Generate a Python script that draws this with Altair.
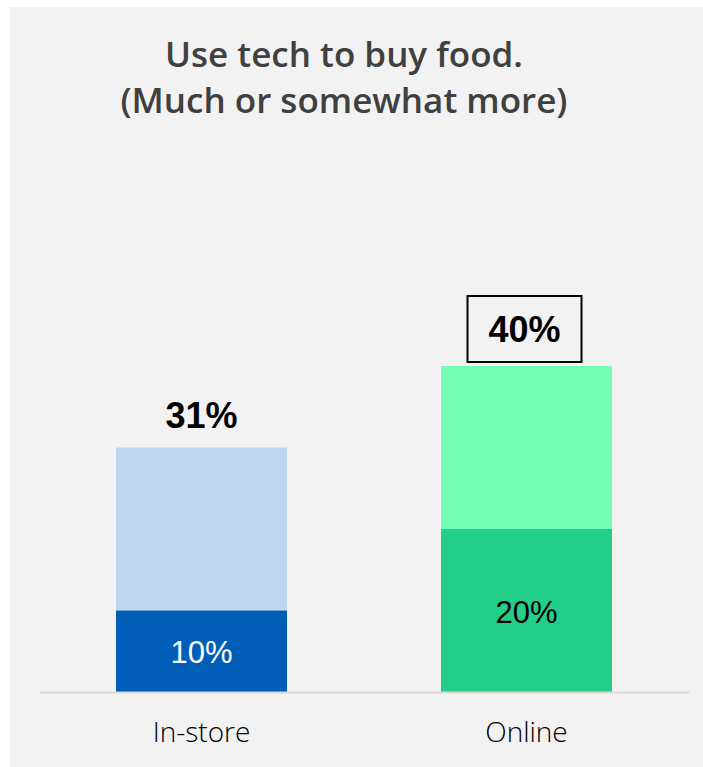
import altair as alt
import pandas as pd

categories = ["In-store", "Online"]
bottom_values = [10, 20]
total_values = [30, 40]
bottom_labels = ["10%", "20%"]
total_labels = ["31%", "40%"]
highlight = ["Online"]

bottom_colors = ["#005EB8", "#23CE8B"]
top_colors = ["#BDD7EE", "#75FFB4"]
bottom_text_colors = ["#FFFFFF", "#000000"]

df = pd.DataFrame({
    "cat": categories,
    "bottom": bottom_values,
    "mid": [v / 2 for v in bottom_values],
    "total": total_values,
    "bottom_label": bottom_labels,
    "total_label": total_labels,
})

W, H = 650, 489
x = alt.X(
    "cat:N",
    sort=categories,
    scale=alt.Scale(domain=categories, paddingInner=0, paddingOuter=0),
    axis=alt.Axis(
        title=None, labelAngle=0, ticks=False, domainColor="#D9D9D9",
        domainWidth=2, labelFontSize=28, labelFont="Open Sans", labelFontWeight=300,
        labelColor="#000000", labelPadding=27, zindex=1,
    ),
)
yscale = alt.Scale(domain=[0, 60])

base = alt.Chart(df)

bg = alt.Chart(alt.Data(values=[{"k": 1}])).mark_rect(color="#F2F2F2").encode(
    x=alt.value(-29), x2=alt.value(664), y=alt.value(-196), y2=alt.value(564)
)

top_bar = base.mark_bar(size=171).encode(
    x=x,
    y=alt.Y("bottom:Q", scale=yscale, axis=None),
    y2="total:Q",
    color=alt.Color("cat:N", scale=alt.Scale(domain=categories, range=top_colors), legend=None),
)

bottom_bar = base.mark_bar(size=171).encode(
    x=x,
    y=alt.Y("bottom:Q", scale=yscale, axis=None),
    color=alt.Color("cat:N", scale=alt.Scale(domain=categories, range=bottom_colors), legend=None),
)

bottom_text = base.mark_text(font="Liberation Sans", fontSize=31, baseline="alphabetic", dy=12).encode(
    x=x,
    y=alt.Y("mid:Q", scale=yscale, axis=None),
    text="bottom_label:N",
    color=alt.Color("cat:N", scale=alt.Scale(domain=categories, range=bottom_text_colors), legend=None),
)

total_text_hl = base.transform_filter(
    alt.FieldOneOfPredicate(field="cat", oneOf=highlight),
).mark_text(font="Liberation Sans", fontSize=36, fontWeight="bold", baseline="alphabetic", dy=-24, dx=-2, color="#000000").encode(
    x=x,
    y=alt.Y("total:Q", scale=yscale, axis=None),
    text="total_label:N",
)

total_text_other = base.transform_filter(
    ~alt.FieldOneOfPredicate(field="cat", oneOf=highlight),
).mark_text(font="Liberation Sans", fontSize=36, fontWeight="bold", baseline="alphabetic", dy=-20, color="#000000").encode(
    x=x,
    y=alt.Y("total:Q", scale=yscale, axis=None),
    text="total_label:N",
)

box = base.transform_filter(
    alt.FieldOneOfPredicate(field="cat", oneOf=highlight),
).mark_point(
    shape="M-1,-0.579L1,-0.579L1,0.579L-1,0.579Z", size=12996, filled=False,
    stroke="#000000", strokeWidth=2, yOffset=-37, xOffset=-2, opacity=1,
).encode(
    x=x,
    y=alt.Y("total:Q", scale=yscale, axis=None),
)

chart = alt.layer(
    bg, top_bar, bottom_bar, bottom_text, total_text_other, total_text_hl, box
).resolve_scale(color="independent").properties(
    width=W, height=H,
    autosize=alt.AutoSizeParams(type="none"),
    padding={"left": 39, "top": 203, "right": 14, "bottom": 75},
    background="#FFFFFF",
    title=alt.TitleParams(
        text=["Use tech to buy food.", "(Much or somewhat more)"],
        font="Open Sans", fontSize=35, fontWeight=600, color="#404040",
        lineHeight=46, anchor="middle", dx=-20, offset=-113,
    ),
).configure_view(stroke=None)

chart.save("out.html", embed_options={"renderer": "svg", "actions": False})
